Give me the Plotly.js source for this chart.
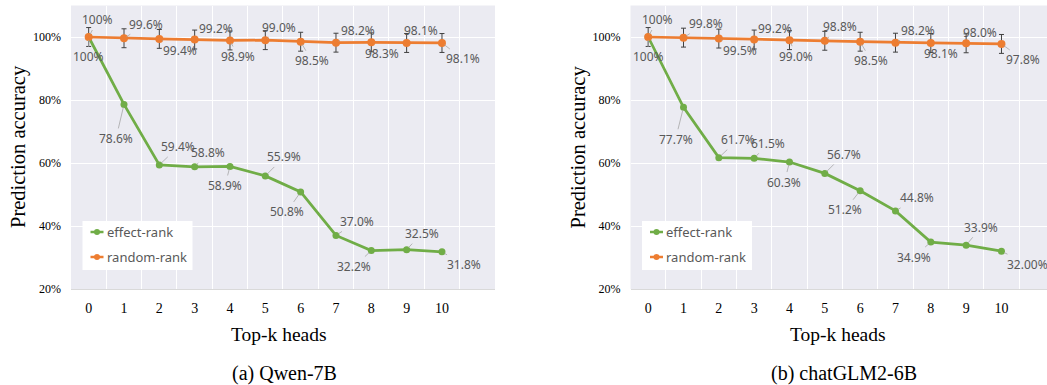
<!DOCTYPE html>
<html>
<head>
<meta charset="utf-8">
<script src="https://cdn.plot.ly/plotly-3.0.1.min.js"></script>
<style>
  html, body { margin: 0; padding: 0; background: #ffffff; }
  #chart { width: 1047px; height: 385px; }
</style>
</head>
<body>
<div id="chart"></div>
<script>
// ---- data ----
const topK = [0, 1, 2, 3, 4, 5, 6, 7, 8, 9, 10];
const tickLabels = ['0', '1', '2', '3', '4', '5', '6', '7', '8', '9', '10'];

const qwenEffect = [100, 78.6, 59.4, 58.8, 58.9, 55.9, 50.8, 37.0, 32.2, 32.5, 31.8];
const qwenRandom = [100, 99.6, 99.4, 99.2, 98.9, 99.0, 98.5, 98.2, 98.3, 98.1, 98.1];
const qwenEffectLabels = ['100%', '78.6%', '59.4%', '58.8%', '58.9%', '55.9%', '50.8%', '37.0%', '32.2%', '32.5%', '31.8%'];
const qwenRandomLabels = ['100%', '99.6%', '99.4%', '99.2%', '98.9%', '99.0%', '98.5%', '98.2%', '98.3%', '98.1%', '98.1%'];

const glmEffect = [100, 77.7, 61.7, 61.5, 60.3, 56.7, 51.2, 44.8, 34.9, 33.9, 32.00];
const glmRandom = [100, 99.8, 99.5, 99.2, 99.0, 98.8, 98.5, 98.2, 98.1, 98.0, 97.8];
const glmEffectLabels = ['100%', '77.7%', '61.7%', '61.5%', '60.3%', '56.7%', '51.2%', '44.8%', '34.9%', '33.9%', '32.00%'];
const glmRandomLabels = ['100%', '99.8%', '99.5%', '99.2%', '99.0%', '98.8%', '98.5%', '98.2%', '98.1%', '98.0%', '97.8%'];

const randomError = [3, 3, 3, 3, 3, 3, 3, 3, 3, 3, 3];

const seriesNames = ['effect-rank', 'random-rank'];
const panelCaptions = ['(a) Qwen-7B', '(b) chatGLM2-6B'];
const yTicks = [20, 40, 60, 80, 100];
const yTickLabels = ['20%', '40%', '60%', '80%', '100%'];

// ---- styling / geometry ----
const W = 1047, H = 385;
const GREEN = '#70AD47', ORANGE = '#ED7D31';
const LABEL_GRAY = '#595959';
const PLOT_BG = '#EBEBF2';
const SERIF = '"Liberation Serif", "Times New Roman", serif';
const SANS = '"Noto Sans", "Open Sans", sans-serif';

const plotTop = 5.5, plotBottom = 289;
const slot = 35.33;
const panels = [
  { left: 71, right: 495 },
  { left: 630.5, right: 1047 }
];

// label placements (pixel offsets of each value label from its point)
const qwenEffectOffsets = [[0,20],[-8,34],[19,-18],[13,-14],[-5,19],[19,-19],[-14,20],[21,-14],[-17,16],[15,-16],[22,13]];
const qwenRandomOffsets = [[9,-17],[22,-14],[21,12],[21,-11],[8,16],[14,-13],[11,19],[22,-12],[11,11],[14,-12],[21,16]];
const glmEffectOffsets = [[0,20],[-8,32],[19,-18],[14,-15],[-5,20],[19,-19],[-15,19],[22,-13],[-17,15],[15,-18],[26,13]];
const glmRandomOffsets = [[9,-17],[22,-14],[21,12],[21,-11],[7,16],[15,-14],[11,19],[23,-12],[10,11],[14,-11],[22,16]];

const px = x => x / W;
const py = y => 1 - y / H;

const panelData = [
  { effect: qwenEffect, random: qwenRandom, effLab: qwenEffectLabels, rndLab: qwenRandomLabels,
    effOff: qwenEffectOffsets, rndOff: qwenRandomOffsets },
  { effect: glmEffect, random: glmRandom, effLab: glmEffectLabels, rndLab: glmRandomLabels,
    effOff: glmEffectOffsets, rndOff: glmRandomOffsets }
];

const traces = [];
const annotations = [];
const shapes = [];
const layout = {
  width: W, height: H,
  margin: { l: 0, r: 0, t: 0, b: 0 },
  paper_bgcolor: '#ffffff',
  plot_bgcolor: PLOT_BG,
  showlegend: false,
  hovermode: false,
  annotations: annotations,
  shapes: shapes
};

// minor grid sits on the boundaries between the k positions
const boundaries = [];
for (let i = -0.5; i <= topK.length + 0.5; i += 1) boundaries.push(i);

panels.forEach((p, idx) => {
  const n = idx === 0 ? '' : String(idx + 1);
  const xa = 'x' + n, ya = 'y' + n;
  const d = panelData[idx];
  const xEnd = -0.5 + (p.right - p.left) / slot;

  layout['xaxis' + n] = {
    domain: [px(p.left), px(p.right)],
    range: [-0.5, xEnd],
    anchor: ya,
    tickmode: 'array',
    tickvals: topK,
    ticktext: tickLabels,
    ticks: '',
    ticklabelstandoff: 6,
    tickfont: { family: SERIF, size: 14, color: '#000000' },
    showgrid: false,
    zeroline: false,
    showline: true,
    linecolor: '#D9D9D9',
    linewidth: 1,
    fixedrange: true,
    minor: { tickmode: 'array', tickvals: boundaries, showgrid: true, gridcolor: '#FFFFFF', gridwidth: 1, ticks: '' }
  };
  layout['yaxis' + n] = {
    domain: [py(plotBottom), py(plotTop)],
    range: [20, 20 + (plotBottom - plotTop) / 3.15],
    anchor: xa,
    tickmode: 'array',
    tickvals: yTicks,
    ticktext: yTickLabels,
    ticks: '',
    ticklabelstandoff: 9,
    tickfont: { family: SERIF, size: 12, color: '#000000' },
    showgrid: true,
    gridcolor: '#FFFFFF',
    gridwidth: 1,
    zeroline: false,
    showline: false,
    fixedrange: true
  };

  traces.push({
    type: 'scatter', mode: 'lines+markers', name: seriesNames[0],
    x: topK, y: d.effect, xaxis: xa, yaxis: ya,
    line: { color: GREEN, width: 2.75 },
    marker: { color: GREEN, size: 7 },
    cliponaxis: false
  });
  traces.push({
    type: 'scatter', mode: 'lines+markers', name: seriesNames[1],
    x: topK, y: d.random, xaxis: xa, yaxis: ya,
    line: { color: ORANGE, width: 2.75 },
    marker: { color: ORANGE, size: 8 },
    error_y: { type: 'data', array: randomError, visible: true, color: '#404040', thickness: 1, width: 2.5 },
    cliponaxis: false
  });

  // value labels with leader lines
  const addLabels = (vals, labs, offs) => {
    vals.forEach((v, i) => {
      annotations.push({
        x: topK[i], y: v, xref: xa, yref: ya,
        text: labs[i],
        showarrow: true, arrowhead: 0, arrowwidth: 0.8, arrowcolor: '#A6A6A6',
        standoff: 3,
        ax: offs[i][0], ay: offs[i][1],
        font: { family: SANS, size: 12, color: LABEL_GRAY }
      });
    });
  };
  addLabels(d.random, d.rndLab, d.rndOff);
  addLabels(d.effect, d.effLab, d.effOff);

  // axis titles and caption
  annotations.push({
    xref: 'paper', yref: 'paper', x: px(p.left - 53), y: py(147),
    text: 'Prediction accuracy', textangle: -90, showarrow: false,
    xanchor: 'center', yanchor: 'middle',
    font: { family: SERIF, size: 20.5, color: '#000000' }
  });
  const xTitleCenter = p.left + 207.5;
  annotations.push({
    xref: 'paper', yref: 'paper', x: px(xTitleCenter), y: py(334),
    text: 'Top-k heads', showarrow: false, xanchor: 'center', yanchor: 'middle',
    font: { family: SERIF, size: 19.5, color: '#000000' }
  });
  annotations.push({
    xref: 'paper', yref: 'paper', x: px(p.left + 17.6 + 5 * slot + 19), y: py(373),
    text: panelCaptions[idx], showarrow: false, xanchor: 'center', yanchor: 'middle',
    font: { family: SERIF, size: 20, color: '#000000' }
  });

  // legend box
  const lx = p.left + 11.5;
  shapes.push({
    type: 'rect', xref: 'paper', yref: 'paper',
    x0: px(lx), x1: px(lx + 110), y0: py(270), y1: py(221),
    fillcolor: '#FFFFFF', line: { width: 0 }, layer: 'above'
  });
  [[GREEN, 232], [ORANGE, 257]].forEach(([c, yy], k) => {
    shapes.push({
      type: 'line', xref: 'paper', yref: 'paper',
      x0: px(lx + 8), x1: px(lx + 21), y0: py(yy), y1: py(yy),
      line: { color: c, width: 2.5 }, layer: 'above'
    });
    shapes.push({
      type: 'circle', xref: 'paper', yref: 'paper',
      x0: px(lx + 11.5), x1: px(lx + 17.5), y0: py(yy + 3), y1: py(yy - 3),
      fillcolor: c, line: { color: c, width: 0 }, layer: 'above'
    });
    annotations.push({
      xref: 'paper', yref: 'paper', x: px(lx + 22), y: py(yy),
      text: seriesNames[k], showarrow: false, xanchor: 'left', yanchor: 'middle',
      font: { family: SANS, size: 13, color: LABEL_GRAY }
    });
  });
});

Plotly.newPlot('chart', traces, layout, { displayModeBar: false, staticPlot: true });
</script>
</body>
</html>
